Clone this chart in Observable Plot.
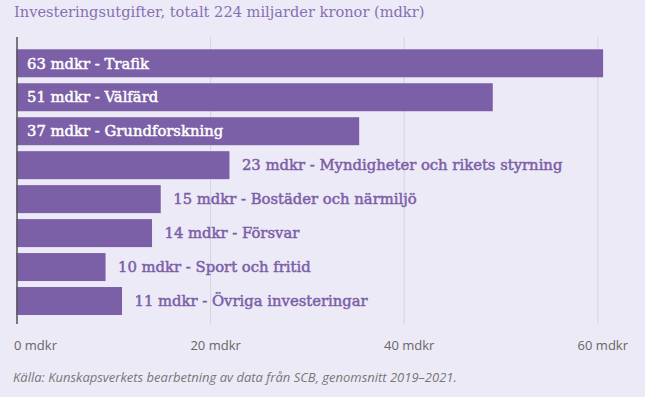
<!DOCTYPE html>
<html>
<head>
<meta charset="utf-8">
<script src="https://cdn.jsdelivr.net/npm/d3@7"></script>
<script src="https://cdn.jsdelivr.net/npm/@observablehq/plot@0.6"></script>
<style>
  html, body { margin: 0; padding: 0; background: #edeaf7; }
  #wrap { width: 645px; height: 397px; position: relative; overflow: hidden; }
  #title { height: 28px; line-height: 24px; padding-left: 14px; font-family: "DejaVu Serif", serif; font-size: 14.6px; color: #8570b3; white-space: nowrap; }
  #caption { position: absolute; left: 13px; top: 368px; font-family: "Open Sans", sans-serif; font-style: italic; font-size: 13px; color: #777; white-space: nowrap; }
  svg { display: block; }
</style>
</head>
<body>
<div id="wrap">
  <div id="title">Investeringsutgifter, totalt 224 miljarder kronor (mdkr)</div>
  <div id="chart"></div>
  <div id="caption">Källa: Kunskapsverkets bearbetning av data från SCB, genomsnitt 2019–2021.</div>
</div>
<script>
const categories = ["Trafik", "Välfärd", "Grundforskning", "Myndigheter och rikets styrning", "Bostäder och närmiljö", "Försvar", "Sport och fritid", "Övriga investeringar"];
const labelValues = [63, 51, 37, 23, 15, 14, 10, 11];
const barValues = [60.6, 49.2, 35.4, 22.0, 14.9, 14.0, 9.2, 10.9];
const xTicks = [0, 20, 40, 60];

const data = categories.map((c, i) => ({
  category: c,
  value: barValues[i],
  label: `${labelValues[i]} mdkr - ${c}`
}));

const purple = "#7b5fa7";
const labelFont = "DejaVu Serif";

const plot = Plot.plot({
  width: 645,
  height: 332,
  marginLeft: 16.5,
  marginRight: 47.7,
  marginTop: 9,
  marginBottom: 36,
  style: { background: "transparent", overflow: "visible" },
  x: { domain: [0, 60], axis: null },
  y: { domain: categories, axis: null, round: false, paddingInner: 0.176, paddingOuter: 0.088, insetTop: 9.3, insetBottom: 6 },
  marks: [
    Plot.gridX(xTicks, { stroke: "#d6d2df", strokeOpacity: 1 }),
    Plot.barX(data, { x: "value", y: "category", fill: purple }),
    Plot.ruleX([0], { stroke: "#555", strokeWidth: 1.5 }),
    Plot.text(data.filter(d => d.value > 30), {
      x: 0, y: "category", text: "label", textAnchor: "start", dx: 10,
      fill: "white", stroke: "white", strokeWidth: 0.5,
      fontFamily: labelFont, fontSize: 14.8
    }),
    Plot.text(data.filter(d => d.value <= 30), {
      x: "value", y: "category", text: "label", textAnchor: "start", dx: 12,
      fill: purple, stroke: purple, strokeWidth: 0.5,
      fontFamily: labelFont, fontSize: 14.8
    }),
    Plot.axisX([0], {
      label: null, tickSize: 0, tickPadding: 16, textAnchor: "start", dx: -3,
      tickFormat: d => `${d} mdkr`, fill: "#666", fontFamily: "Open Sans", fontSize: 13
    }),
    Plot.axisX(xTicks.slice(1), {
      label: null, tickSize: 0, tickPadding: 16, dx: 5,
      tickFormat: d => `${d} mdkr`, fill: "#666", fontFamily: "Open Sans", fontSize: 13
    })
  ]
});
document.getElementById("chart").appendChild(plot);
</script>
</body>
</html>
